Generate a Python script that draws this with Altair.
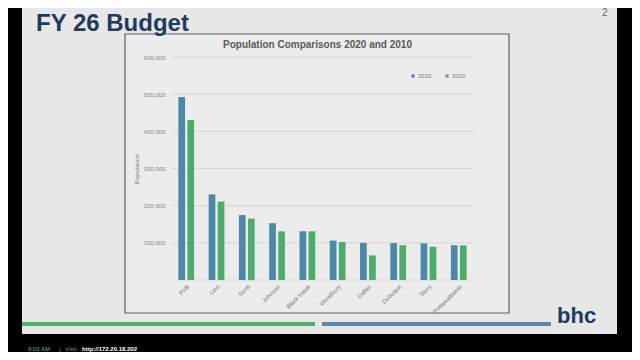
import altair as alt
import pandas as pd

counties = ["Polk", "Linn", "Scott", "Johnson", "Black Hawk", "Woodbury",
            "Dallas", "Dubuque", "Story", "Pottawattamie"]
pop_2020 = [492401, 230299, 174669, 152854, 131144, 105941, 99678, 99266, 98537, 93667]
pop_2010 = [430640, 211226, 165224, 130882, 131090, 102172, 66135, 93653, 89542, 93158]
years = ["2020", "2010"]
y_ticks = [0, 100000, 200000, 300000, 400000, 500000, 600000]

BLUE = "#4b89a6"
GREEN = "#4dac6b"
FONT = "Liberation Sans"

rows = []
for c, a, b in zip(counties, pop_2020, pop_2010):
    rows.append({"county": c, "year": "2020", "value": a})
    rows.append({"county": c, "year": "2010", "value": b})
df = pd.DataFrame(rows)
grid_df = pd.DataFrame({"value": y_ticks})
one = pd.DataFrame({"a": [0]})

W, H = 301, 223


def box(x, x2, y, y2, color, stroke=None, sw=0):
    kw = dict(color=color)
    if stroke:
        kw.update(stroke=stroke, strokeWidth=sw)
    return alt.Chart(one).mark_rect(**kw).encode(
        x=alt.value(x), x2=alt.value(x2), y=alt.value(y), y2=alt.value(y2))


def label(text, x, y, size, color, weight="normal", align="left",
          baseline="alphabetic", font=FONT):
    return alt.Chart(one).mark_text(
        text=text, fontSize=size, color=color, fontWeight=weight,
        align=align, baseline=baseline, font=font).encode(
        x=alt.value(x), y=alt.value(y))


# slide background and decorations (view origin = page (172, 57))
slide = box(-150, 445, -70, 277, "#e7e7e7")
frame = box(-47, 337, -23, 256, "#ececec", stroke="#5f5f5f", sw=1.2)
green_bar = box(-150, 143, 265, 269, "#4caf6a")
blue_bar = box(150, 379, 265, 269, "#5b86a7")

slide_title = label("FY 26 Budget", -136, -26, 24, "#1f3a5f", weight="bold")
page_no = label("2", 430, -41, 10, "#666666")
logo = label("bhc", 385, 266, 22, "#1f3a5f", weight="bold")
f1 = label("9:03 AM", -144, 294, 6, "#5fb3a8")
f2 = label("|", -113, 294, 6, "#888888")
f3 = label("Visit:", -107, 294, 6, "#888888")
f4 = label("http://172.20.18.202", -90, 294, 6, "#ffffff", weight="bold")
chart_title = label("Population Comparisons 2020 and 2010", 145.5, -12, 10,
                    "#595959", weight="bold", align="center", baseline="middle")

y_enc = alt.Y("value:Q", scale=alt.Scale(domain=[0, 600000]),
              axis=alt.Axis(values=y_ticks, grid=False, domain=False, ticks=False,
                            labelExpr="datum.value == 0 ? '-' : format(datum.value, ',')",
                            labelFontSize=6, labelColor="#858585", labelFont=FONT,
                            labelPadding=7, title="Population",
                            titleFont="Liberation Serif", titleFontSize=7,
                            titleFontWeight="normal", titleColor="#707070",
                            titlePadding=4, zindex=1))

grid = alt.Chart(grid_df).mark_rule(color="#d4d4d4", strokeWidth=1).encode(y=y_enc)

bars = alt.Chart(df).mark_bar().encode(
    x=alt.X("county:N", sort=counties,
            scale=alt.Scale(paddingInner=0.48, paddingOuter=0.21),
            axis=alt.Axis(title=None, labelAngle=-45, labelFontSize=6,
                          labelColor="#7a7a7a", labelFont=FONT, domain=False,
                          ticks=False, labelPadding=3, zindex=1)),
    xOffset=alt.XOffset("year:N", sort=years,
                        scale=alt.Scale(paddingInner=0.26, paddingOuter=0)),
    y=y_enc,
    color=alt.Color("year:N", sort=years,
                    scale=alt.Scale(domain=years, range=[BLUE, GREEN]),
                    legend=alt.Legend(title=None, orient="none", legendX=238,
                                      legendY=16, direction="horizontal",
                                      symbolType="square", symbolSize=10,
                                      labelFontSize=6, labelColor="#7a7a7a",
                                      labelFont=FONT, columnPadding=12,
                                      labelOffset=2)),
)

chart = alt.layer(
    slide, frame, green_bar, blue_bar, slide_title, page_no, logo,
    f1, f2, f3, f4, chart_title, grid, bars
).properties(
    width=W, height=H,
    autosize=alt.AutoSizeParams(type="none"),
    padding={"left": 164, "top": 49, "right": 159, "bottom": 72},
).configure(background="#000000").configure_view(stroke=None)

chart.save("out.html", embed_options={"renderer": "svg", "actions": False})
